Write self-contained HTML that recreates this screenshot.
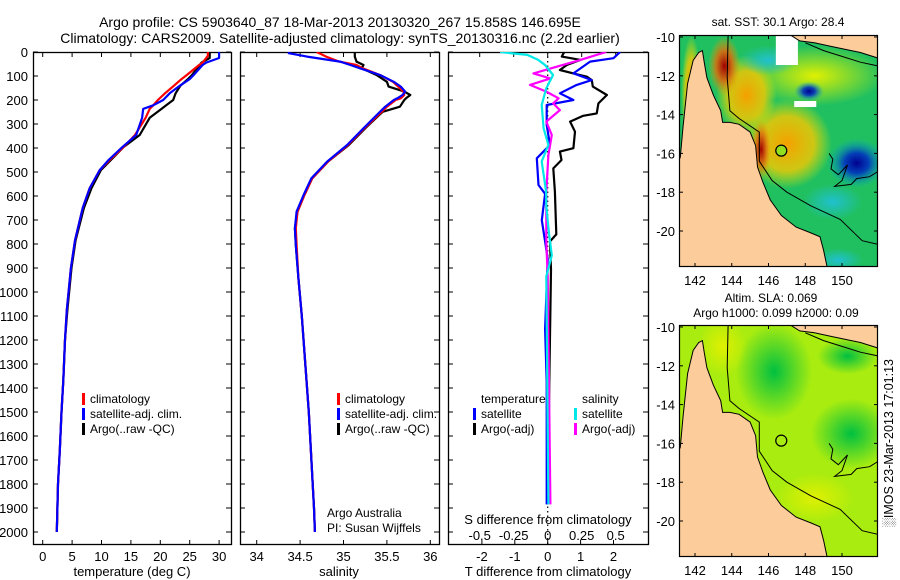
<!DOCTYPE html>
<html><head><meta charset="utf-8"><style>
html,body{margin:0;padding:0;background:#fff;}
svg{display:block;font-family:"Liberation Sans",sans-serif;}
</style></head><body>
<svg id="chart" width="900" height="580" viewBox="0 0 900 580" xmlns="http://www.w3.org/2000/svg">
<defs>
<clipPath id="clipP1"><rect x="33" y="52" width="198" height="493"/></clipPath>
<clipPath id="clipP2"><rect x="240" y="52" width="199" height="493"/></clipPath>
<clipPath id="clipP3"><rect x="448" y="52" width="200" height="493"/></clipPath>
<clipPath id="clipM1"><rect x="679" y="35" width="199" height="232"/></clipPath>
<clipPath id="clipM2"><rect x="679" y="325" width="199" height="232"/></clipPath>
<radialGradient id="gRed"><stop offset="0" stop-color="#a00000"/><stop offset="0.5" stop-color="#d86a10" stop-opacity="0.9"/><stop offset="1" stop-color="#f0a000" stop-opacity="0"/></radialGradient>
<radialGradient id="gOr"><stop offset="0" stop-color="#f5a000"/><stop offset="0.6" stop-color="#f8c800" stop-opacity="0.8"/><stop offset="1" stop-color="#e8e800" stop-opacity="0"/></radialGradient>
<radialGradient id="gBlue"><stop offset="0" stop-color="#000090"/><stop offset="0.4" stop-color="#0030c0" stop-opacity="0.9"/><stop offset="1" stop-color="#00b0d0" stop-opacity="0"/></radialGradient>
<radialGradient id="gCyan"><stop offset="0" stop-color="#20c0d0"/><stop offset="1" stop-color="#20c0d0" stop-opacity="0"/></radialGradient>
<radialGradient id="gDG"><stop offset="0" stop-color="#00c040"/><stop offset="1" stop-color="#00c040" stop-opacity="0"/></radialGradient>
<radialGradient id="gYel"><stop offset="0" stop-color="#e0f000"/><stop offset="1" stop-color="#e0f000" stop-opacity="0"/></radialGradient>
</defs>
<g id="layer"></g>
</svg>
<script>
// ---------- data ----------
var tempDepths = [0,15,25,44,54,98,113,141,172,200,222,237,274,346,397,450,492,567,650,785,900,1075,1200,1369,1500,1661,1800,2000];
var tempClim   = [28.1,28.1,27.8,27.2,26.6,24.4,23.6,22.3,20.8,19.6,18.8,18.2,17.5,15.7,13.7,11.4,9.7,8.0,6.8,5.5,4.8,4.1,3.8,3.5,3.2,2.9,2.6,2.4];
var tempSat    = [30.0,30.0,30.0,27.8,27.2,25.6,25.0,23.3,21.6,20.5,18.8,17.1,16.9,15.9,13.5,11.2,9.7,8.0,6.8,5.5,4.8,4.1,3.8,3.5,3.2,2.9,2.6,2.4];
var tempArgo   = [28.4,28.4,28.4,27.0,26.7,25.3,24.7,23.4,22.6,22.2,21.0,20.2,18.2,16.5,13.7,11.6,9.9,8.3,7.0,5.6,4.9,4.2,3.8,3.5,3.2,2.9,2.6,2.4];

var salDepths = [0,5,19,40,54,68,96,124,144,165,179,193,200,228,249,318,388,457,526,596,665,734,804,942,1100,1300,1500,1700,1900,2000];
var salClim   = [34.69,34.72,34.8,34.95,35.15,35.22,35.42,35.57,35.63,35.69,35.7,35.66,35.6,35.5,35.44,35.24,35.05,34.82,34.64,34.55,34.47,34.45,34.46,34.48,34.52,34.56,34.6,34.63,34.66,34.67];
var salSat    = [34.37,34.37,34.58,34.96,35.08,35.19,35.42,35.58,35.66,35.71,35.68,35.62,35.58,35.48,35.42,35.23,35.04,34.81,34.63,34.54,34.46,34.44,34.45,34.48,34.52,34.56,34.6,34.63,34.66,34.67];
var salArgo   = [35.13,35.13,35.13,35.15,35.23,35.21,35.38,35.5,35.52,35.7,35.77,35.72,35.7,35.65,35.45,35.25,35.06,34.82,34.64,34.55,34.47,34.44,34.45,34.48,34.52,34.56,34.6,34.63,34.66,34.67];

var dtArgoDepths = [0,19,33,54,75,89,103,117,144,179,214,256,266,290,332,401,415,450,485,582,760,789,906,1373,1885];
var dtArgo       = [0.5,0.43,1.0,0.58,0.37,0.78,1.19,1.34,1.37,1.8,1.54,1.49,1.08,0.68,0.83,0.78,0.37,0.42,0.17,0.22,0.26,0.07,0.1,0.05,0.0];
var dtSatDepths  = [0,26,40,89,117,137,172,200,221,304,387,443,554,591,701,789,862,1154,1373,1885];
var dtSat        = [2.2,2.0,1.29,0.78,1.34,0.88,0.37,0.78,-0.03,-0.03,0.07,-0.33,-0.28,-0.08,-0.18,-0.08,0.0,-0.08,-0.03,-0.03];
var dsSatDepths  = [0,12,33,54,96,151,221,318,387,456,582,643,760,847,935,1885];
var dsSat        = [-0.35,-0.15,-0.07,-0.02,0.04,-0.01,-0.044,-0.03,0.005,-0.044,-0.012,-0.01,0.01,0.03,-0.01,0.005];
var dsArgoDepths = [0,33,61,89,110,137,165,193,214,242,290,346,429,582,701,789,935,1885];
var dsArgo       = [0.43,0.24,0.07,-0.105,0.02,-0.13,-0.01,0.08,0.04,0.09,-0.01,0.03,0.005,-0.01,-0.01,-0.01,0.0,0.02];

var depthTicks = [0,100,200,300,400,500,600,700,800,900,1000,1100,1200,1300,1400,1500,1600,1700,1800,1900,2000];
var tempTicks = [0,5,10,15,20,25,30];
var salTicks = ["34","34.5","35","35.5","36"];
var dtTicks = ["-2","-1","0","1","2"];
var dsTicks = ["-0.5","-0.25","0","0.25","0.5"];
var lonTicks = [142,144,146,148,150];
var latTicks = [-10,-12,-14,-16,-18,-20];

// ---------- scales ----------
function yD(d){return 52 + d*0.24;}
function xT(v){return 42.7 + v*5.88;}
function xS(v){return 256.7 + (v-34)*86.8;}
function xDT(v){return 547.7 + v*32.9;}
function xDS(v){return 547.7 + v*136;}
function mx(lon){return 695 + (lon-142)*18.375;}
function my(lat,off){return off + (-10-lat)*19.4;}

var NS="http://www.w3.org/2000/svg";
var layer=document.getElementById('layer');
function mk(tag,attrs,parent){var e=document.createElementNS(NS,tag);for(var k in attrs)e.setAttribute(k,attrs[k]);(parent||layer).appendChild(e);return e;}
function txt(x,y,s,anchor,size,parent){var t=mk('text',{x:x,y:y,'font-size':size||13,'text-anchor':anchor||'middle',fill:'#000'},parent);t.textContent=s;return t;}

function profile(depths,vals,xf,color,clip,name,w){
  var pts=[];for(var i=0;i<depths.length;i++)pts.push(xf(vals[i]).toFixed(1)+','+yD(depths[i]).toFixed(1));
  var p=mk('polyline',{points:pts.join(' '),fill:'none',stroke:color,'stroke-width':w||2.2,'stroke-linejoin':'round','clip-path':'url(#'+clip+')'});
  
  
}

// ---------- titles ----------
var t1=txt(340,27,'Argo profile: CS 5903640_87 18-Mar-2013 20130320_267 15.858S 146.695E','middle',14);


var t2=txt(340,43,'Climatology: CARS2009. Satellite-adjusted climatology: synTS_20130316.nc (2.2d earlier)','middle',14);



// ---------- panel frames ----------
var panels=[[33,231,'temperature-panel'],[240,439,'salinity-panel'],[448,648,'difference-panel']];
panels.forEach(function(p){
  var r=mk('rect',{x:p[0]+0.5,y:52.5,width:p[1]-p[0],height:492,fill:'none',stroke:'#000','stroke-width':1.3});
  
  
  depthTicks.forEach(function(d){
    mk('line',{x1:p[0],x2:p[0]+5,y1:yD(d),y2:yD(d),stroke:'#000'});
    mk('line',{x1:p[1]-5,x2:p[1],y1:yD(d),y2:yD(d),stroke:'#000'});
  });
});
depthTicks.forEach(function(d){
  var l=txt(28,yD(d)+5,String(d),'end',13);
  
  
});
tempTicks.forEach(function(v){
  mk('line',{x1:xT(v),x2:xT(v),y1:540,y2:545,stroke:'#000'});mk('line',{x1:xT(v),x2:xT(v),y1:52,y2:57,stroke:'#000'});
  var l=txt(xT(v),561,String(v));
  
  
});
salTicks.forEach(function(s){
  var v=parseFloat(s);
  mk('line',{x1:xS(v),x2:xS(v),y1:540,y2:545,stroke:'#000'});mk('line',{x1:xS(v),x2:xS(v),y1:52,y2:57,stroke:'#000'});
  var l=txt(xS(v),561,s);
  
  
});
dtTicks.forEach(function(s){
  var v=parseFloat(s);
  mk('line',{x1:xDT(v),x2:xDT(v),y1:540,y2:545,stroke:'#000'});
  var l=txt(xDT(v),561,s);
  
  
});
dsTicks.forEach(function(s){
  var v=parseFloat(s);
  mk('line',{x1:xDS(v),x2:xDS(v),y1:52,y2:57,stroke:'#000'});
  var l=txt(xDS(v),540,s);
  
  
});
var a1=txt(132,576,'temperature (deg C)');


var a2=txt(339,576,'salinity');


var a3=txt(548,576,'T difference from climatology');


var a4=txt(548,524,'S difference from climatology');



var z=mk('line',{x1:xDT(0),x2:xDT(0),y1:52,y2:545,stroke:'#000','stroke-dasharray':'1.5,3','stroke-width':1.2});



// ---------- profiles ----------
profile(tempDepths,tempArgo,xT,'#000','clipP1','temperature-argo-line');
profile(tempDepths,tempClim,xT,'#ff0000','clipP1','temperature-climatology-line');
profile(tempDepths,tempSat,xT,'#0000ff','clipP1','temperature-satellite-line');
profile(salDepths,salArgo,xS,'#000','clipP2','salinity-argo-line');
profile(salDepths,salClim,xS,'#ff0000','clipP2','salinity-climatology-line');
profile(salDepths,salSat,xS,'#0000ff','clipP2','salinity-satellite-line');
profile(dtArgoDepths,dtArgo,xDT,'#000','clipP3','t-diff-argo-line');
profile(dtSatDepths,dtSat,xDT,'#0000ff','clipP3','t-diff-satellite-line');
profile(dsArgoDepths,dsArgo,xDS,'#ff00ff','clipP3','s-diff-argo-line');
profile(dsSatDepths,dsSat,xDS,'#00e8e8','clipP3','s-diff-satellite-line');

// ---------- legends ----------
function legend(x,y,color,label,name){
  var g=mk('g',{});
  
  
  mk('rect',{x:x,y:y-10,width:3,height:12,fill:color},g);
  txt(x+8,y,label,'start',12,g);
}
legend(82,403,'#ff0000','climatology','legend-climatology');
legend(82,418,'#0000ff','satellite-adj. clim.','legend-satellite-adj');
legend(82,433,'#000','Argo(..raw -QC)','legend-argo');
legend(337,403,'#ff0000','climatology','legend-climatology-2');
legend(337,418,'#0000ff','satellite-adj. clim.','legend-satellite-adj-2');
legend(337,433,'#000','Argo(..raw -QC)','legend-argo-2');
var lt=txt(481,403,'temperature','start',12);


var ls=txt(582,403,'salinity','start',12);


legend(473,418,'#0000ff','satellite','legend-t-satellite');
legend(473,433,'#000','Argo(-adj)','legend-t-argo');
legend(574,418,'#00e8e8','satellite','legend-s-satellite');
legend(574,433,'#ff00ff','Argo(-adj)','legend-s-argo');
var pi1=txt(327,517,'Argo Australia','start',12);


var pi2=txt(327,532,'PI: Susan Wijffels','start',12);



// ---------- maps ----------
var coast=[[142.4,-10.7],[142.5,-11.3],[142.65,-12.1],[143.0,-13.0],[143.4,-13.8],[143.5,-14.4],[143.9,-14.4],[144.4,-14.5],[145.0,-14.9],[145.3,-15.6],[145.4,-16.7],[145.7,-17.5],[146.1,-18.4],[146.7,-19.2],[147.5,-19.8],[148.3,-20.1],[148.8,-20.3],[149.0,-21.0],[149.2,-21.9],[141.1,-21.9],[141.1,-16.4],[141.2,-16.2],[141.35,-14.6],[141.6,-12.4],[141.9,-11.2],[142.2,-10.8]];
var png=[[147.2,-9.9],[147.7,-10.2],[148.5,-10.3],[149.5,-10.5],[151.0,-10.8],[152,-11.1],[152,-9.9]];
var shelf=[[143.8,-9.9],[143.75,-12.1],[143.9,-13.8],[144.4,-14.2],[145.5,-14.9],[145.5,-16.4],[146.2,-17.4],[147.0,-18.0],[148.3,-18.7],[149.9,-19.4],[151.1,-20.5],[152,-20.7]];
var trench=[[152,-11.5],[151.0,-11.3],[150.0,-11.0],[149.0,-10.7],[148.0,-10.3]];
var reef=[[149.3,-16.0],[149.5,-16.3],[149.4,-16.8],[149.8,-17.1],[150.3,-16.6],[150.0,-17.4],[149.6,-17.7],[150.5,-17.6],[150.8,-17.3],[151.5,-17.2],[152,-16.9]];
function ptsOf(arr,off){return arr.map(function(p){return mx(p[0]).toFixed(1)+','+my(p[1],off).toFixed(1);}).join(' ');}

function drawMap(off,clip,kind,name){
  var g=mk('g',{'clip-path':'url(#'+clip+')'});
  
  
  if(kind==='sst'){
    mk('rect',{x:679,y:off-2,width:199,height:232,fill:'#20c060'},g);
    mk('ellipse',{cx:mx(148.5),cy:my(-12,off),rx:70,ry:30,fill:'url(#gYel)'},g);
    mk('ellipse',{cx:mx(147),cy:my(-15.5,off),rx:45,ry:45,fill:'url(#gOr)'},g);
    mk('ellipse',{cx:mx(144.8),cy:my(-13,off),rx:30,ry:40,fill:'url(#gOr)'},g);
    mk('ellipse',{cx:mx(141.8),cy:my(-13,off),rx:10,ry:60,fill:'url(#gOr)'},g);
    mk('ellipse',{cx:mx(143.6),cy:my(-11.5,off),rx:16,ry:30,fill:'url(#gRed)'},g);
    mk('ellipse',{cx:mx(145.6),cy:my(-15.8,off),rx:10,ry:30,fill:'url(#gRed)'},g);
    mk('ellipse',{cx:mx(146),cy:my(-11.2,off),rx:30,ry:15,fill:'url(#gCyan)'},g);
    mk('ellipse',{cx:mx(150.8),cy:my(-16.5,off),rx:30,ry:25,fill:'url(#gBlue)'},g);
    mk('ellipse',{cx:mx(148.2),cy:my(-12.8,off),rx:15,ry:10,fill:'url(#gBlue)'},g);
    mk('ellipse',{cx:mx(149.5),cy:my(-18.5,off),rx:30,ry:18,fill:'url(#gCyan)'},g);
    mk('ellipse',{cx:mx(149.8),cy:my(-21.5,off),rx:25,ry:12,fill:'url(#gCyan)'},g);
    mk('rect',{x:mx(146.4),y:my(-10,off)-4,width:mx(147.6)-mx(146.4),height:32,fill:'#fff'},g);
    mk('rect',{x:mx(147.4),y:my(-13.3,off),width:mx(148.6)-mx(147.4),height:6,fill:'#fff'},g);
  } else {
    mk('rect',{x:679,y:off-2,width:199,height:232,fill:'#a8ec10'},g);
    mk('ellipse',{cx:mx(146.3),cy:my(-12.3,off),rx:38,ry:48,fill:'url(#gDG)'},g);
    mk('ellipse',{cx:mx(150.5),cy:my(-15.5,off),rx:40,ry:35,fill:'url(#gDG)'},g);
    mk('ellipse',{cx:mx(150.3),cy:my(-11.5,off),rx:30,ry:18,fill:'url(#gDG)'},g);
    mk('ellipse',{cx:mx(148.5),cy:my(-18.8,off),rx:40,ry:25,fill:'url(#gYel)'},g);
    mk('ellipse',{cx:mx(143.5),cy:my(-11,off),rx:25,ry:30,fill:'url(#gYel)'},g);
  }
  mk('polygon',{points:ptsOf(coast,off),fill:'#fccc9a',stroke:'#000','stroke-width':1},g);
  mk('polygon',{points:ptsOf(png,off),fill:'#fccc9a',stroke:'#000','stroke-width':1},g);
  mk('polyline',{points:ptsOf(shelf,off),fill:'none',stroke:'#000','stroke-width':1},g);
  mk('polyline',{points:ptsOf(trench,off),fill:'none',stroke:'#000','stroke-width':1},g);
  mk('polyline',{points:ptsOf(reef,off),fill:'none',stroke:'#000','stroke-width':1},g);
  var c=mk('circle',{cx:mx(146.695),cy:my(-15.858,off),r:5.5,fill:kind==='sst'?'#90e020':'none',stroke:'#000','stroke-width':1.2},g);
  
  
  mk('rect',{x:679.5,y:off-1.5,width:198,height:231,fill:'none',stroke:'#000','stroke-width':1.2});
  latTicks.forEach(function(la){
    var y=my(la,off);
    mk('line',{x1:679,x2:683,y1:y,y2:y,stroke:'#000'});mk('line',{x1:874,x2:878,y1:y,y2:y,stroke:'#000'});
    var l=txt(675,y+5,String(la),'end',13);
    
    
  });
  lonTicks.forEach(function(lo){
    var x=mx(lo);
    mk('line',{x1:x,x2:x,y1:off-2,y2:off+2,stroke:'#000'});mk('line',{x1:x,x2:x,y1:off+226,y2:off+230,stroke:'#000'});
    var l=txt(x,off+248,String(lo),'middle',13);
    
    
  });
}
drawMap(37,'clipM1','sst','sst-map');
drawMap(327,'clipM2','sla','sla-map');
var s1=txt(778,26,'sat. SST: 30.1 Argo: 28.4','middle',12);


var s2=txt(771,302,'Altim. SLA: 0.069','middle',12);


var s3=txt(776,317,'Argo h1000: 0.099 h2000: 0.09','middle',12);


var im=txt(0,0,'\u2591IMOS 23-Mar-2013 17:01:13','middle',12.5);
im.setAttribute('transform','translate(893,443) rotate(-90)');


</script>
</body></html>
